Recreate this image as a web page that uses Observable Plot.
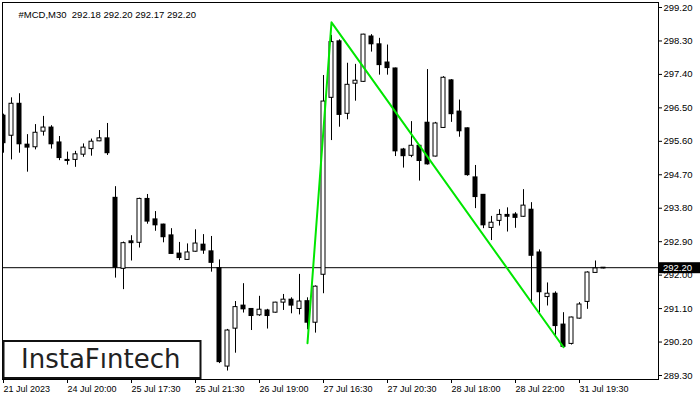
<!DOCTYPE html>
<html>
<head>
<meta charset="utf-8">
<script src="https://cdn.jsdelivr.net/npm/d3@7"></script>
<script src="https://cdn.jsdelivr.net/npm/@observablehq/plot@0.6"></script>
<style>
  html, body { margin: 0; padding: 0; background: #fff; }
  #chart { width: 700px; height: 400px; }
</style>
</head>
<body>
<div id="chart"></div>
<script>
// ---- data (M30 candles, index 0..75) ----
const opens = [296.29,295.75,296.61,295.51,295.44,295.86,295.97,295.57,295.10,295.10,295.24,295.39,295.60,295.68,
  294.08,292.17,292.91,292.87,294.05,293.50,293.36,293.07,292.58,292.41,292.63,292.82,292.64,292.19,289.54,290.56,
  291.18,291.09,290.92,291.05,290.99,291.26,291.34,291.09,291.30,290.72,292.01,296.77,298.29,296.34,297.15,297.20,
  298.42,298.21,297.72,297.56,295.38,295.21,295.48,296.10,295.19,295.96,297.24,296.40,295.95,294.63,294.16,293.27,
  293.46,293.62,293.63,293.57,293.76,292.61,291.41,291.50,290.67,290.15,290.83,291.28,292.06,292.18];
const highs = [296.33,296.77,296.88,295.78,296.05,296.27,296.02,295.73,295.31,295.33,295.53,295.66,295.89,296.08,
  294.38,292.89,293.06,294.07,294.17,293.71,293.37,293.25,292.88,292.84,293.22,293.09,293.04,292.41,290.54,291.29,
  291.77,291.10,291.43,291.08,291.27,291.48,291.39,292.02,291.39,291.71,297.37,298.45,298.33,297.70,297.67,298.48,
  298.47,298.37,298.19,297.57,295.41,296.13,295.49,297.53,296.11,297.34,297.26,296.71,295.96,294.95,294.17,293.58,
  293.76,293.81,293.68,294.30,293.95,292.68,291.79,291.55,290.99,290.87,291.26,292.09,292.38,292.20];
const lows = [295.28,295.10,295.28,294.77,295.37,295.74,295.39,295.08,294.96,294.90,295.17,295.20,295.59,295.22,
  291.92,291.61,292.38,292.73,293.37,293.18,292.87,292.56,292.39,292.40,292.62,292.56,292.08,289.62,289.42,289.90,
  290.98,290.51,290.89,290.55,290.98,291.05,290.96,290.93,290.53,290.44,291.50,295.62,295.98,296.18,296.68,297.19,
  298.00,297.38,297.38,295.19,294.88,295.16,294.53,294.96,295.18,295.95,296.11,295.71,294.66,293.79,293.25,292.93,
  293.32,293.16,293.26,293.56,291.23,290.98,291.17,290.33,290.06,290.12,290.82,291.08,292.06,292.17];
const closes = [295.55,296.61,295.52,295.43,295.83,295.97,295.52,295.15,295.07,295.25,295.43,295.59,295.68,295.28,
  292.20,292.86,292.86,294.05,293.44,293.34,293.02,292.57,292.46,292.61,292.85,292.66,292.33,289.66,290.51,291.14,
  291.08,290.90,291.07,290.90,291.26,291.34,291.18,291.29,290.72,291.69,296.67,298.27,296.31,297.12,297.23,298.47,
  298.21,297.65,297.57,295.33,295.20,295.48,295.07,294.98,296.08,297.31,296.33,295.87,294.69,294.10,293.34,293.41,
  293.62,293.57,293.54,293.87,292.52,291.54,291.50,290.63,290.07,290.86,291.21,292.07,292.18,292.20];

const xTickIdx = [0, 8, 16, 24, 32, 40, 48, 56, 64, 72];
const xTickLabels = ["21 Jul 2023","24 Jul 20:00","25 Jul 17:30","25 Jul 21:30","26 Jul 19:00",
  "27 Jul 16:30","27 Jul 20:30","28 Jul 18:00","28 Jul 22:00","31 Jul 19:30"];
const yTicks = [289.3, 290.2, 291.1, 292.0, 292.9, 293.8, 294.7, 295.6, 296.5, 297.4, 298.3, 299.2];

// pattern line (green)
const patternIdx = [38, 41, 70];
const patternVal = [290.17, 298.80, 290.06];

const currentPrice = 292.20;
const title = "#MCD,M30\u00a0\u00a0292.18 292.20 292.17 292.20";
const logoText = "InstaF\u0131ntech";

// ---- build tables ----
const candles = opens.map((o, i) => ({i, o, h: highs[i], l: lows[i], c: closes[i]}));
const pattern = patternIdx.map((i, k) => ({i, v: patternVal[k]}));
const tickLabel = new Map(xTickIdx.map((d, k) => [d, xTickLabels[k]]));

const pxPerUnit = (375 - 7) / (299.2 - 289.3);

const plot = Plot.plot({
  width: 700,
  height: 400,
  marginLeft: 2,
  marginRight: 42,
  marginTop: 2,
  marginBottom: 21,
  style: {fontFamily: "'Liberation Sans', Arial, sans-serif", fontSize: "9.5px", background: "#fff", color: "#000"},
  x: {domain: [0, 75], range: [3, 603], label: null},
  y: {domain: [289.3, 299.2], range: [375, 7], label: null},
  marks: [
    Plot.ruleY([currentPrice], {stroke: "#000", strokeWidth: 1}),
    Plot.ruleX(candles, {x: "i", y1: "l", y2: "h", stroke: "#000", strokeWidth: 1, clip: true}),
    Plot.rect(candles, {
      x1: d => d.i - 0.3125, x2: d => d.i + 0.3125,
      y1: d => Math.min(d.o, d.c), y2: d => Math.max(d.o, d.c),
      fill: "#000", insetTop: -0.5, insetBottom: -0.5, clip: true
    }),
    Plot.rect(candles.filter(d => d.c > d.o && (d.c - d.o) * pxPerUnit > 1.5), {
      x1: d => d.i - 0.3125, x2: d => d.i + 0.3125,
      y1: "o", y2: "c",
      fill: "#fff", insetLeft: 1, insetRight: 1, insetTop: 0.5, insetBottom: 0.5, clip: true
    }),
    Plot.line(pattern, {x: "i", y: "v", stroke: "#00e600", strokeWidth: 2}),
    Plot.frame({stroke: "#000"}),
    Plot.axisY(yTicks, {anchor: "right", tickSize: 3, tickPadding: 2, tickFormat: d => d.toFixed(2), fontSize: 9.5}),
    Plot.axisX(xTickIdx, {anchor: "bottom", tickSize: 4, tickPadding: 2, textAnchor: "start", dx: 0,
      tickFormat: d => tickLabel.get(d), fontSize: 9}),
    Plot.text([title], {frameAnchor: "top-left", dx: 16, dy: 9, textAnchor: "start", fontSize: 9.5, fill: "#000"})
  ]
});

document.getElementById("chart").appendChild(plot);

// current price marker on the right axis, positioned with the plot's y scale
const svg = d3.select(plot);
const yScale = plot.scale("y");
const yp = yScale.apply(currentPrice);
svg.append("rect").attr("x", 659).attr("y", yp - 5).attr("width", 41).attr("height", 11).attr("fill", "#000");
svg.append("text").attr("x", 663).attr("y", yp).attr("dy", "0.35em")
  .attr("text-anchor", "start")
  .attr("fill", "#fff").attr("font-size", 9.5).attr("font-family", "'Liberation Sans', Arial, sans-serif")
  .text(currentPrice.toFixed(2));

// logo box
svg.append("rect").attr("x", 3.5).attr("y", 341).attr("width", 197).attr("height", 37)
  .attr("fill", "#fff").attr("stroke", "#111").attr("stroke-width", 2);
svg.append("text").attr("x", 21).attr("y", 368)
  .attr("text-anchor", "start")
  .attr("font-family", "'DejaVu Sans', sans-serif").attr("font-size", 26).attr("fill", "#222")
  .text(logoText);
</script>
</body>
</html>
